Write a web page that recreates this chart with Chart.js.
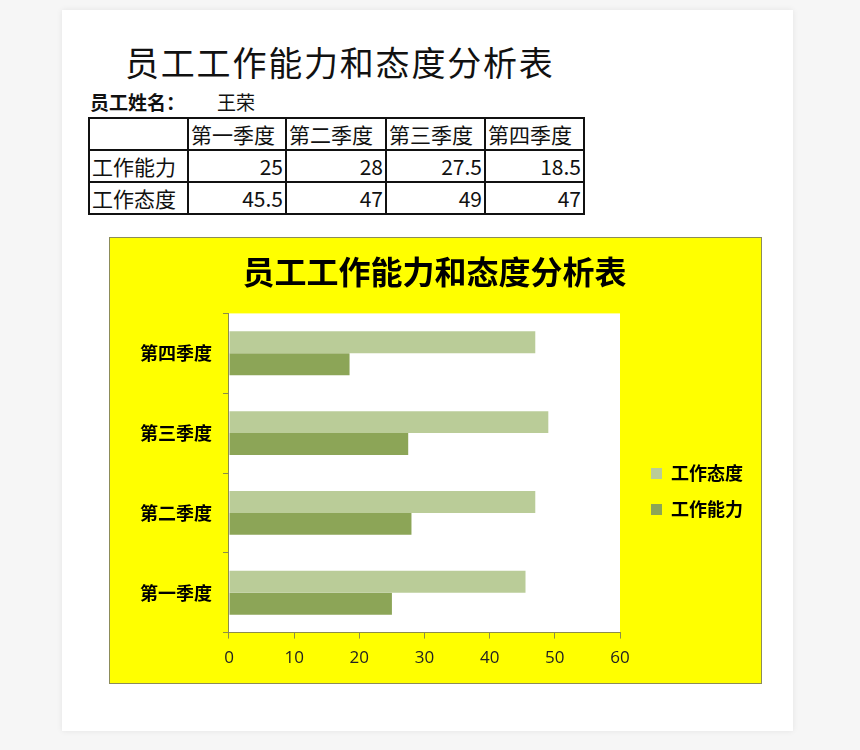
<!DOCTYPE html>
<html>
<head>
<meta charset="utf-8">
<script src="https://cdn.jsdelivr.net/npm/chart.js@4.4.0/dist/chart.umd.min.js"></script>
<style>
  body { margin: 0; background: #f6f6f6; font-family: "Noto Sans CJK SC", sans-serif; }
  #paper { position: absolute; left: 62px; top: 10px; width: 731px; height: 721px; background: #fff;
           box-shadow: 0 0 6px rgba(0,0,0,0.08); }
  #heading { position: absolute; left: 125px; top: 40px; font-size: 34px; line-height: 44px; letter-spacing: 1.8px; color: #111; }
  #who { position: absolute; left: 90px; top: 90px; font-size: 19px; line-height: 24px; color: #111; }
  #who b { margin-right: 32px; }
  #tbl { position: absolute; left: 88px; top: 117px; border-collapse: collapse; table-layout: fixed; font-size: 21px; color: #111; }
  #tbl td { border: 2px solid #111; height: 30px; padding: 0 2px; line-height: 30px; white-space: nowrap; }
  #tbl td.num { text-align: right; }
  #box { position: absolute; left: 109px; top: 237px; width: 651px; height: 445px; background: #ffff00; border: 1px solid #8c8c5a; }
</style>
</head>
<body>
<div id="heading">员工工作能力和态度分析表</div>
<div id="who"><b>员工姓名：</b>王荣</div>
<table id="tbl">
  <colgroup><col style="width:99px"><col style="width:98px"><col style="width:100px"><col style="width:99px"><col style="width:99px"></colgroup>
  <tbody id="tbody"></tbody>
</table>
<div id="box"><canvas id="chart" width="651" height="445"></canvas></div>
<script>
// 数据
const quarters = ['第一季度', '第二季度', '第三季度', '第四季度'];
const ability = [25, 28, 27.5, 18.5];    // 工作能力
const attitude = [45.5, 47, 49, 47];     // 工作态度
const seriesNames = ['工作能力', '工作态度'];

// 纸张背景放到最底层
const paper = document.createElement('div');
paper.id = 'paper';
document.body.insertBefore(paper, document.body.firstChild);

// 表格
const tbody = document.getElementById('tbody');
let html = '<tr><td></td>' + quarters.map(q => '<td>' + q + '</td>').join('') + '</tr>';
html += '<tr><td>' + seriesNames[0] + '</td>' + ability.map(v => '<td class="num">' + v + '</td>').join('') + '</tr>';
html += '<tr><td>' + seriesNames[1] + '</td>' + attitude.map(v => '<td class="num">' + v + '</td>').join('') + '</tr>';
tbody.innerHTML = html;

// 绘图区白色背景
const plotBg = {
  id: 'plotBg',
  beforeDraw(chart) {
    const a = chart.chartArea;
    const ctx = chart.ctx;
    ctx.save();
    ctx.fillStyle = '#ffffff';
    ctx.fillRect(a.left, a.top, a.right - a.left, a.bottom - a.top);
    ctx.restore();
  }
};

// 图例位置微调
const legendShift = {
  id: 'legendShift',
  afterLayout(chart) {
    const lg = chart.legend;
    lg.left += 13; lg.right += 13;
    lg.top += 34; lg.bottom += 34;
  }
};

Chart.defaults.font.family = '"Noto Sans CJK SC", sans-serif';
const axisColor = '#8c8c4a';

const ctx = document.getElementById('chart').getContext('2d');
new Chart(ctx, {
  type: 'bar',
  data: {
    labels: quarters,
    datasets: [{
      label: seriesNames[1],
      data: attitude,
      backgroundColor: '#bacc98'
    }, {
      label: seriesNames[0],
      data: ability,
      backgroundColor: '#8ca557'
    }]
  },
  options: {
    indexAxis: 'y',
    responsive: false,
    animation: false,
    categoryPercentage: 0.55,
    barPercentage: 1.0,
    layout: { padding: { left: 19, right: 21, top: 0, bottom: 6 } },
    plugins: {
      title: {
        display: true,
        text: '员工工作能力和态度分析表',
        color: '#000',
        font: { size: 32, weight: 'bold' },
        padding: { top: 15, bottom: 22 }
      },
      legend: {
        position: 'right',
        labels: {
          color: '#000',
          boxWidth: 11,
          boxHeight: 11,
          padding: 18,
          font: { size: 18, weight: 'bold' }
        }
      },
      tooltip: { enabled: false }
    },
    scales: {
      x: {
        min: 0,
        max: 60,
        ticks: { stepSize: 10, color: '#222', padding: 9, font: { family: '"Open Sans", sans-serif', size: 17 } },
        grid: { drawOnChartArea: false, drawTicks: true, tickLength: 6, color: axisColor },
        border: { color: axisColor, width: 1 }
      },
      y: {
        reverse: true,
        ticks: { color: '#000', padding: 11, font: { size: 18, weight: 'bold' } },
        grid: { drawOnChartArea: false, drawTicks: true, tickLength: 6, color: axisColor },
        border: { color: axisColor, width: 1 }
      }
    }
  },
  plugins: [plotBg, legendShift]
});
</script>
</body>
</html>
